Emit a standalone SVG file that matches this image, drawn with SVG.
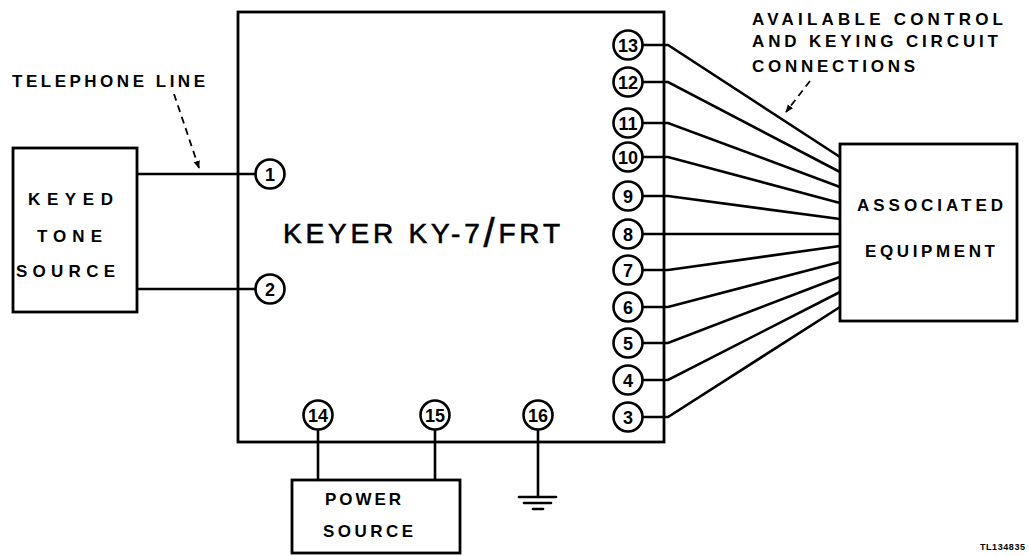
<svg xmlns="http://www.w3.org/2000/svg" width="1029" height="556" viewBox="0 0 1029 556">
<style>
.ln{stroke:#000;stroke-width:2.6;fill:none;stroke-linecap:round}
.bx{stroke:#000;stroke-width:2.8;fill:#fff}
.pin{stroke:#000;stroke-width:2.6;fill:#fff}
.t{font-family:"Liberation Sans",Arial,sans-serif;font-weight:bold;fill:#000}
.lbl{font-size:17px}
.num{font-size:18px;text-anchor:middle}
.dash{stroke:#000;stroke-width:1.8;fill:none;stroke-dasharray:7 5}
</style>
<defs>
<marker id="ah" viewBox="0 0 10 10" refX="9" refY="5" markerWidth="8" markerHeight="8" orient="auto" markerUnits="userSpaceOnUse">
<path d="M0,1 L10,5 L0,9 Z" fill="#000"/>
</marker>
</defs>
<rect width="1029" height="556" fill="#fff"/>

<g id="keyer">
<rect class="bx" x="238" y="12" width="426" height="430" style="fill:none"/>
<text class="t" x="283" y="243" font-size="28" style="font-weight:normal" stroke="#000" stroke-width="0.6" textLength="277" lengthAdjust="spacing">KEYER KY-7<tspan font-size="40" dy="4">/</tspan><tspan dy="-4">FRT</tspan></text>
</g>

<g id="connectors">
<line class="ln" x1="137" y1="174" x2="255" y2="174"/>
<line class="ln" x1="137" y1="289" x2="255" y2="289"/>
<polyline class="ln" points="642,45 668,45 840,157"/>
<polyline class="ln" points="642,82 668,82 840,172"/>
<polyline class="ln" points="642,123 668,123 840,187"/>
<polyline class="ln" points="642,157 668,157 840,203"/>
<polyline class="ln" points="642,196 668,196 840,219"/>
<polyline class="ln" points="642,234 668,234 840,234"/>
<polyline class="ln" points="642,270 668,270 840,246"/>
<polyline class="ln" points="642,307 668,307 840,262"/>
<polyline class="ln" points="642,343 668,343 840,277"/>
<polyline class="ln" points="642,380 668,380 840,292"/>
<polyline class="ln" points="642,417 668,417 840,307"/>
<line class="ln" x1="318" y1="430" x2="318" y2="480"/>
<line class="ln" x1="435" y1="430" x2="435" y2="480"/>
<line class="ln" x1="538" y1="430" x2="538" y2="497"/>
<line class="ln" x1="519" y1="497" x2="556" y2="497"/>
<line class="ln" x1="524" y1="503" x2="551" y2="503"/>
<line class="ln" x1="533" y1="509" x2="543" y2="509"/>
<line class="dash" x1="174" y1="94" x2="199" y2="168" marker-end="url(#ah)"/>
<line class="dash" x1="810" y1="81" x2="786" y2="112" marker-end="url(#ah)"/>
</g>

<g id="pins">
<circle class="pin" cx="270" cy="174" r="14.5"/><text class="t num" x="270" y="180.5">1</text>
<circle class="pin" cx="270" cy="289" r="14.5"/><text class="t num" x="270" y="295.5">2</text>
<circle class="pin" cx="628" cy="417" r="14.5"/><text class="t num" x="628" y="423.5">3</text>
<circle class="pin" cx="628" cy="380" r="14.5"/><text class="t num" x="628" y="386.5">4</text>
<circle class="pin" cx="628" cy="343" r="14.5"/><text class="t num" x="628" y="349.5">5</text>
<circle class="pin" cx="628" cy="307" r="14.5"/><text class="t num" x="628" y="313.5">6</text>
<circle class="pin" cx="628" cy="270" r="14.5"/><text class="t num" x="628" y="276.5">7</text>
<circle class="pin" cx="628" cy="234" r="14.5"/><text class="t num" x="628" y="240.5">8</text>
<circle class="pin" cx="628" cy="196" r="14.5"/><text class="t num" x="628" y="202.5">9</text>
<circle class="pin" cx="628" cy="157" r="14.5"/><text class="t num" x="628" y="163.5">10</text>
<circle class="pin" cx="628" cy="123" r="14.5"/><text class="t num" x="628" y="129.5">11</text>
<circle class="pin" cx="628" cy="82" r="14.5"/><text class="t num" x="628" y="88.5">12</text>
<circle class="pin" cx="628" cy="45" r="14.5"/><text class="t num" x="628" y="51.5">13</text>
<circle class="pin" cx="318" cy="415" r="14.5"/><text class="t num" x="318" y="421.5">14</text>
<circle class="pin" cx="435" cy="415" r="14.5"/><text class="t num" x="435" y="421.5">15</text>
<circle class="pin" cx="538" cy="415" r="14.5"/><text class="t num" x="538" y="421.5">16</text>
</g>

<g id="keyed-tone-source">
<rect class="bx" x="13" y="148" width="124" height="164"/>
<text class="t lbl" x="28" y="205" textLength="85" lengthAdjust="spacing">KEYED</text>
<text class="t lbl" x="37" y="242" textLength="65" lengthAdjust="spacing">TONE</text>
<text class="t lbl" x="16" y="277" textLength="99" lengthAdjust="spacing">SOURCE</text>
</g>

<g id="associated-equipment">
<rect class="bx" x="840" y="144" width="177" height="177"/>
<text class="t lbl" x="857" y="211" textLength="146" lengthAdjust="spacing">ASSOCIATED</text>
<text class="t lbl" x="865" y="257" textLength="130" lengthAdjust="spacing">EQUIPMENT</text>
</g>

<g id="power-source">
<rect class="bx" x="292" y="480" width="168" height="73"/>
<text class="t lbl" x="325" y="505" textLength="76" lengthAdjust="spacing">POWER</text>
<text class="t lbl" x="323" y="537" textLength="90" lengthAdjust="spacing">SOURCE</text>
</g>

<g id="labels">
<text class="t lbl" x="12" y="87" textLength="193" lengthAdjust="spacing">TELEPHONE LINE</text>
<text class="t lbl" x="752" y="25" textLength="251" lengthAdjust="spacing">AVAILABLE CONTROL</text>
<text class="t lbl" x="752" y="47" textLength="246" lengthAdjust="spacing">AND KEYING CIRCUIT</text>
<text class="t lbl" x="752" y="72" textLength="163" lengthAdjust="spacing">CONNECTIONS</text>
<text class="t" x="980" y="550" font-size="9" textLength="45" lengthAdjust="spacing">TL134835</text>
</g>
</svg>
